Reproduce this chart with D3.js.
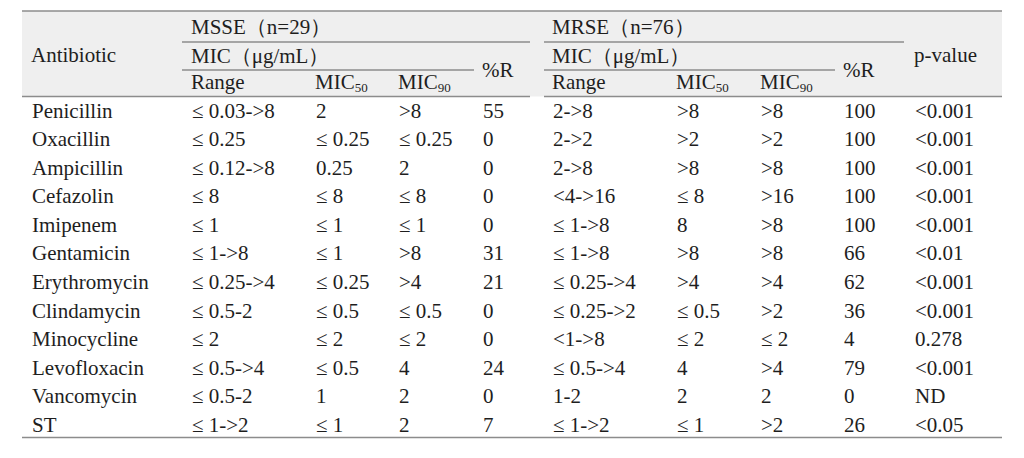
<!DOCTYPE html>
<html>
<head>
<meta charset="utf-8">
<script src="https://cdn.jsdelivr.net/npm/d3@7"></script>
<style>
  body { margin: 0; background: #fff; }
  svg text { font-family: "Liberation Serif", "DejaVu Serif", serif; fill: #1e1e1e; }
</style>
</head>
<body>
<svg id="chart"></svg>
<script>
/* Table data */

var antibiotics = ["Penicillin", "Oxacillin", "Ampicillin", "Cefazolin", "Imipenem", "Gentamicin",
                   "Erythromycin", "Clindamycin", "Minocycline", "Levofloxacin", "Vancomycin", "ST"];

var msseRange = ["≤ 0.03->8", "≤ 0.25", "≤ 0.12->8", "≤ 8", "≤ 1", "≤ 1->8",
                 "≤ 0.25->4", "≤ 0.5-2", "≤ 2", "≤ 0.5->4", "≤ 0.5-2", "≤ 1->2"];
var msseMic50 = ["2", "≤ 0.25", "0.25", "≤ 8", "≤ 1", "≤ 1", "≤ 0.25", "≤ 0.5", "≤ 2", "≤ 0.5", "1", "≤ 1"];
var msseMic90 = [">8", "≤ 0.25", "2", "≤ 8", "≤ 1", ">8", ">4", "≤ 0.5", "≤ 2", "4", "2", "2"];
var msseR     = ["55", "0", "0", "0", "0", "31", "21", "0", "0", "24", "0", "7"];

var mrseRange = ["2->8", "2->2", "2->8", "<4->16", "≤ 1->8", "≤ 1->8",
                 "≤ 0.25->4", "≤ 0.25->2", "<1->8", "≤ 0.5->4", "1-2", "≤ 1->2"];
var mrseMic50 = [">8", ">2", ">8", "≤ 8", "8", ">8", ">4", "≤ 0.5", "≤ 2", "4", "2", "≤ 1"];
var mrseMic90 = [">8", ">2", ">8", ">16", ">8", ">8", ">4", ">2", "≤ 2", ">4", "2", ">2"];
var mrseR     = ["100", "100", "100", "100", "100", "66", "62", "36", "4", "79", "0", "26"];

var pValues = ["<0.001", "<0.001", "<0.001", "<0.001", "<0.001", "<0.01",
               "<0.001", "<0.001", "0.278", "<0.001", "ND", "<0.05"];

var columns = ["name", "msseRange", "msseMic50", "msseMic90", "msseR",
               "mrseRange", "mrseMic50", "mrseMic90", "mrseR", "p"];

/* Measures */

var W = 1024,
    H = 458;

var TABLE_LEFT    = 22,
    TABLE_RIGHT   = 1002,
    TABLE_TOP     = 11,
    HEADER_BOTTOM = 96.5,
    TABLE_BOTTOM  = 437.5;

var FONT_SIZE = 21,
    SUB_SIZE  = 13;

var LINE_COLOR  = "#8c8c8c",
    HEADER_FILL = "#efefef";

var x = d3.scaleOrdinal()
    .domain(columns)
    .range([32, 192, 316, 399, 483, 553, 677, 761, 844, 915]);

var y = d3.scalePoint()
    .domain(antibiotics)
    .range([117.5, 432]);

var svg = d3.select("#chart")
    .attr("width", W)
    .attr("height", H);

svg.append("rect")
    .attr("width", W)
    .attr("height", H)
    .attr("fill", "#fff");

/* Header */

svg.append("rect")
    .attr("x", TABLE_LEFT)
    .attr("y", TABLE_TOP)
    .attr("width", TABLE_RIGHT - TABLE_LEFT)
    .attr("height", HEADER_BOTTOM - TABLE_TOP)
    .attr("fill", HEADER_FILL);

var rules = [
    [TABLE_LEFT, TABLE_RIGHT, TABLE_TOP],
    [182, 530, 42], [544, 904, 42],
    [182, 474, 70], [544, 835, 70],
    [TABLE_LEFT, 530, HEADER_BOTTOM], [544, TABLE_RIGHT, HEADER_BOTTOM],
    [TABLE_LEFT, TABLE_RIGHT, TABLE_BOTTOM]
];

svg.append("g").selectAll("line")
    .data(rules)
    .enter().append("line")
    .attr("x1", function(d) { return d[0]; })
    .attr("x2", function(d) { return d[1]; })
    .attr("y1", function(d) { return d[2]; })
    .attr("y2", function(d) { return d[2]; })
    .attr("stroke", LINE_COLOR)
    .attr("stroke-width", 1.5);

var header = svg.append("g").attr("font-size", FONT_SIZE);

var headerLabels = [
    { col: "name",      y: 61.5, text: "Antibiotic" },
    { col: "msseRange", y: 34,   text: "MSSE（n=29）" },
    { col: "msseRange", y: 62.5, text: "MIC（μg/mL）" },
    { col: "msseRange", y: 89,   text: "Range" },
    { col: "msseMic50", y: 89,   text: "MIC", sub: "50" },
    { col: "msseMic90", y: 89,   text: "MIC", sub: "90" },
    { col: "msseR",     y: 76.5, text: "%R" },
    { col: "mrseRange", y: 34,   text: "MRSE（n=76）" },
    { col: "mrseRange", y: 62.5, text: "MIC（μg/mL）" },
    { col: "mrseRange", y: 89,   text: "Range" },
    { col: "mrseMic50", y: 89,   text: "MIC", sub: "50" },
    { col: "mrseMic90", y: 89,   text: "MIC", sub: "90" },
    { col: "mrseR",     y: 76.5, text: "%R" },
    { col: "p",         y: 61.5, text: "p-value" }
];

var ht = header.selectAll("text")
    .data(headerLabels)
    .enter().append("text")
    .attr("x", function(d) { return x(d.col) - 1; })
    .attr("y", function(d) { return d.y; });

ht.append("tspan").text(function(d) { return d.text; });
ht.filter(function(d) { return d.sub; })
    .append("tspan")
    .attr("dy", 3)
    .attr("font-size", SUB_SIZE)
    .text(function(d) { return d.sub; });

/* Body */

var rows = antibiotics.map(function(name, i) {
    return {
        name: name,
        msseRange: msseRange[i], msseMic50: msseMic50[i], msseMic90: msseMic90[i], msseR: msseR[i],
        mrseRange: mrseRange[i], mrseMic50: mrseMic50[i], mrseMic90: mrseMic90[i], mrseR: mrseR[i],
        p: pValues[i]
    };
});

var body = svg.append("g").attr("font-size", FONT_SIZE);

var rowG = body.selectAll("g.row")
    .data(rows)
    .enter().append("g")
    .attr("class", "row")
    .attr("transform", function(d) { return "translate(0," + y(d.name) + ")"; });

rowG.selectAll("text")
    .data(function(d) { return columns.map(function(c) { return { col: c, value: d[c] }; }); })
    .enter().append("text")
    .attr("x", function(d) { return x(d.col); })
    .text(function(d) { return d.value; });
</script>
</body>
</html>
